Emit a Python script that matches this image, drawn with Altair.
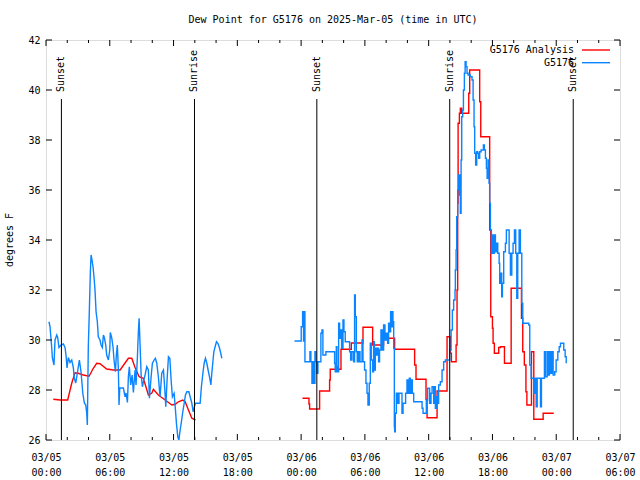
import altair as alt
import pandas as pd

FONT = "DejaVu Sans Mono"
RED = "#ff0000"
BLUE = "#0a84ff"

TITLE = "Dew Point for G5176 on 2025-Mar-05 (time in UTC)"
Y_TITLE = "degrees F"
SERIES = ["G5176 Analysis", "G5176"]

# (hours since 2025-03-05 00:00 UTC, dew point F)
obs_day1 = [(0.28,30.73),(0.38,30.53),(0.54,29.68),(0.60,29.28),(0.75,29.0),(0.85,30.0),(1.01,30.2),(1.10,30.1),(1.22,29.7),(1.41,29.8),(1.63,29.84),(1.79,29.7),(1.88,29.4),(1.98,28.88),(2.10,29.3),(2.26,29.1),(2.42,29.2),(2.57,28.9),(2.66,28.48),(2.80,28.28),(2.95,28.68),(3.14,29.2),(3.30,28.7),(3.46,27.88),(3.61,27.48),(3.74,27.4),(3.83,27.08),(3.89,26.6),(3.98,29.73),(4.08,31.2),(4.17,32.68),(4.24,33.4),(4.33,33.2),(4.43,32.9),(4.52,32.5),(4.61,32.0),(4.71,31.13),(4.83,30.73),(4.92,30.13),(5.08,30.0),(5.18,29.8),(5.30,29.7),(5.40,30.2),(5.49,30.1),(5.62,29.8),(5.71,29.4),(5.87,29.2),(6.00,29.6),(6.05,30.3),(6.19,30.07),(6.31,29.7),(6.40,29.2),(6.53,28.73),(6.62,29.4),(6.71,29.8),(6.81,28.8),(6.87,27.4),(6.94,28.08),(7.28,28.08),(7.44,27.73),
            (7.53,27.88),(7.66,27.5),(7.75,28.53),(7.84,28.93),(7.97,28.2),(8.10,28.6),(8.22,27.9),(8.38,28.8),(8.47,28.2),(8.60,29.33),(8.69,30.33),(8.76,30.87),(8.85,29.8),(8.95,28.6),(9.07,28.13),(9.20,28.4),(9.32,28.6),(9.48,28.93),(9.63,28.8),(9.73,27.67),(9.89,28.53),(10.01,29.07),(10.17,29.2),(10.29,29.27),(10.42,29.07),(10.57,28.53),(10.73,27.73),(10.89,28.67),(11.05,28.8),(11.18,28.0),(11.27,27.33),(11.39,28.4),(11.52,29.33),(11.65,29.27),(11.77,28.4),(11.89,27.73),(12.05,27.87),(12.18,27.2),(12.27,26.67),(12.40,26.13),(12.50,26.0),(12.62,26.4),(12.74,26.73),(12.87,27.13),(13.00,27.47),(13.12,27.8),(13.25,27.93),(13.44,27.93),(13.56,27.73),(13.72,27.47),(13.84,27.13),(13.96,27.33),(14.06,27.47),(14.50,27.47),(14.62,28.13),(14.76,28.67),(14.88,29.07),(15.00,29.27),(15.13,29.07),(15.25,28.8),(15.38,28.53),(15.51,28.2),(15.60,28.67),(15.70,29.13),(15.79,29.53),(15.91,29.73),(16.04,29.93),(16.17,29.87),(16.29,29.73),(16.41,29.53),(16.54,29.27)]

ana_day1 = [(0.69,27.63),(1.32,27.6),(2.04,27.6),(2.42,28.27),(2.73,28.69),(3.04,28.67),(3.51,28.6),(4.05,28.55),(4.45,28.87),(4.77,29.07),(5.08,29.05),(5.71,28.84),(6.34,28.8),(6.97,28.8),(7.75,29.27),(8.07,29.27),(8.38,28.9),(8.76,28.53),(9.16,28.47),(9.63,27.8),(9.95,27.87),(10.10,28.03),(10.57,27.8),(11.21,27.6),(11.84,27.4),(12.15,27.43),(12.46,27.53),(12.87,27.6),(13.09,27.53),(13.40,27.2),(13.72,26.87),(14.06,26.8)]

obs_day2 = [(23.38,29.96),(24.01,30.53),(24.14,31.13),(24.23,29.96),(24.29,31.13),(24.36,29.13),(24.83,29.53),(24.92,29.13),(25.02,28.27),(25.11,29.13),(25.21,28.27),(25.30,29.53),(25.40,29.13),(25.49,28.67),(25.58,29.13),(25.86,30.27),(25.96,30.4),(26.05,29.4),(26.33,29.53),(27.15,29.07),(27.21,28.73),(27.31,29.73),(27.37,28.93),(27.43,28.73),(27.53,30.67),(27.62,30.07),(27.71,30.4),(27.81,29.67),(27.94,30.8),(28.03,30.33),(28.15,29.93),(28.56,29.53),(28.66,29.2),(28.78,29.53),(28.94,29.13),(29.03,31.8),(29.10,30.93),(29.19,29.53),(29.28,29.13),(29.41,29.53),(29.54,29.13),(29.73,30.0),(29.82,29.13),(29.97,28.8),(30.10,28.27),(30.20,27.87),(30.29,27.4),(30.41,28.27),(30.51,29.87),(30.60,29.2),(30.73,28.73),(30.82,29.93),(30.89,28.8),(30.98,29.67),(31.07,29.4),(31.20,29.67),(31.29,29.13),(31.38,29.6),(31.51,30.4),(31.64,29.6),(31.76,30.6),(31.89,30.0),(32.02,30.27),(32.14,29.87),(32.23,30.67),(32.33,30.33),(32.42,31.13),(32.51,30.53),(32.58,31.13),(32.64,30.73),(32.71,29.67),(32.77,26.53),(32.80,26.33),(32.86,27.07),(32.96,27.87),(33.08,27.47),(33.21,27.87),(33.49,27.07),(33.59,27.47),(33.83,27.87),(33.96,28.4),(34.09,27.87),(34.18,28.47),(34.27,27.87),(34.37,28.4),(34.46,27.87),(34.59,27.53),(35.38,27.27),(35.47,27.07),(35.78,27.6),(35.90,28.07),(36.09,27.47),(36.22,27.87),(36.32,28.13),(36.47,27.47),(36.53,28.13),(36.63,27.27),(36.72,27.73),(36.85,27.47),(36.94,28.2),(37.10,28.33),(37.26,28.8),(37.41,29.13),(37.57,29.2),(37.98,29.6),(38.11,30.4),(38.23,31.2),(38.35,31.6),(38.48,32.0),(38.51,32.8),(38.58,33.6),(38.64,34.93),(38.73,36.0),(38.82,36.6),(38.92,35.8),(38.98,35.07),(39.05,37.2),(39.11,38.93),(39.20,39.2),(39.27,40.0),(39.36,40.67),(39.43,41.13),(39.52,40.93),(39.61,40.67),(39.71,40.6),(39.92,40.53),(40.08,40.4),(40.18,39.6),(40.27,38.53),(40.33,37.47),(40.42,37.0),(40.52,37.53),(40.61,37.47),(40.71,37.27),(40.80,37.53),(40.93,37.6),(41.15,37.8),(41.24,37.6),(41.34,37.27),(41.43,36.87),(41.50,36.47),(41.59,37.2),(41.68,36.27),(41.74,35.47),(41.81,34.4),(41.90,33.47),(42.00,34.2),(42.09,33.47),(42.18,34.2),(42.28,33.53),(42.37,33.87),(42.50,33.47),(42.63,33.07),(42.68,32.27),(42.78,32.67),(42.87,31.73),(42.94,32.27),(43.06,33.53),(43.22,33.87),(43.31,34.4),(43.44,34.4),(43.57,33.47),(43.69,32.6),(43.82,33.47),(43.94,33.87),(44.07,34.4),(44.19,33.47),(44.29,31.67),(44.38,33.47),(44.51,34.4),(44.63,33.47),(44.76,31.47),(44.85,30.67),(45.42,30.6),(45.51,29.0),(45.64,28.47),(45.89,27.87),(45.98,28.47),(46.11,27.33),(46.21,28.47),(46.52,27.33),(46.61,28.47),(46.89,29.53),(46.99,28.53),(47.15,29.53),(47.24,28.6),(47.36,29.53),(47.49,28.67),(47.62,29.53),(47.71,28.6),(47.86,28.73),(47.99,29.2),(48.15,29.53),(48.28,29.73),(48.40,29.87),(48.59,29.87),(48.71,29.6),(48.84,29.33),(48.94,29.07)]

ana_day2 = [(24.13,27.67),(24.74,27.44),(24.80,27.24),(25.74,27.96),(26.68,28.4),(26.74,28.83),(27.75,29.63),(28.72,29.88),(29.82,30.51),(30.73,29.8),(31.76,30.07),(32.80,29.63),(34.68,29.0),(34.81,28.43),(35.75,27.63),(35.85,26.89),(36.79,27.96),(37.73,30.13),(38.04,29.47),(38.14,29.13),(38.58,29.8),(38.67,32.0),(38.73,35.47),(38.77,38.67),(38.89,39.07),(38.98,39.27),(39.11,39.07),(39.77,39.87),(39.86,40.8),(40.80,39.53),(40.90,38.13),(41.74,34.4),(41.84,30.93),(42.00,30.47),(42.06,29.87),(42.18,29.47),(42.59,29.7),(42.75,29.73),(43.13,29.07),(43.76,32.07),(44.73,30.87),(44.85,29.53),(45.00,29.0),(45.15,27.93),(45.24,27.4),(45.67,29.53),(45.89,26.83),(46.77,27.07),(47.77,27.07)]

sun_hours = [1.45, 13.97, 25.48, 37.98, 49.6]
sun_labels = ["Sunset", "Sunrise", "Sunset", "Sunrise", "Sunset"]

x_label_hours = [0, 6, 12, 18, 24, 30, 36, 42, 48, 54]
x_minor_hours = [h for h in range(0, 55, 2)]
y_tick_values = [26, 28, 30, 32, 34, 36, 38, 40, 42]

W, H = 574, 400


def df(pairs):
    return pd.DataFrame(pairs, columns=["hour", "dewpt"])


x_scale = alt.Scale(domain=[0, 54], nice=False, zero=False)
y_scale = alt.Scale(domain=[26, 42], nice=False, zero=False)

label_expr = ("['03/0' + (5 + floor(datum.value / 24)), "
              "(datum.value % 24 < 10 ? '0' : '') + (datum.value % 24) + ':00']")

x_axis = alt.Axis(values=x_label_hours, labelExpr=label_expr, ticks=False, domain=False,
                  grid=False, title=None, labelFont=FONT, labelFontSize=10, labelColor="black",
                  labelAngle=0, labelPadding=12, labelLineHeight=15, labelBaseline="top",
                  labelFlush=False, labelOverlap=False, labelBound=False, labelAlign="center")
y_axis = alt.Axis(values=y_tick_values, ticks=False, domain=False, grid=False, title=None,
                  labelFont=FONT, labelFontSize=10, labelColor="black", labelPadding=6,
                  labelFlush=False, labelOverlap=False)

X = alt.X("hour:Q", scale=x_scale, axis=x_axis)
Y = alt.Y("dewpt:Q", scale=y_scale, axis=y_axis)


def series_line(pairs, color, interp):
    return alt.Chart(df(pairs)).mark_line(color=color, strokeWidth=1.4, interpolate=interp,
                                          clip=True).encode(x=X, y=Y)


layers = [
    series_line(ana_day1, RED, "linear"),
    series_line(ana_day2, RED, "step-after"),
    series_line(obs_day1, BLUE, "linear"),
    series_line(obs_day2, BLUE, "step-after"),
]

# sunrise / sunset markers
sun_df = pd.DataFrame({"hour": sun_hours, "label": sun_labels})
layers.append(alt.Chart(sun_df).mark_rule(color="black", strokeWidth=1).encode(
    x=X, y=alt.value(59), y2=alt.value(H)))
layers.append(alt.Chart(sun_df).mark_text(font=FONT, fontSize=10, angle=270, align="left",
                                          baseline="middle", color="black").encode(
    x=X, y=alt.value(52), text="label:N"))

# inward ticks
major_df = pd.DataFrame({"hour": x_label_hours})
minor_df = pd.DataFrame({"hour": [h for h in x_minor_hours if h % 6 != 0]})
ytick_df = pd.DataFrame({"dewpt": y_tick_values})
MAJ, MIN = 6, 3
for d, ln in ((major_df, MAJ), (minor_df, MIN)):
    layers.append(alt.Chart(d).mark_rule(color="black").encode(x=X, y=alt.value(H), y2=alt.value(H - ln)))
    layers.append(alt.Chart(d).mark_rule(color="black").encode(x=X, y=alt.value(0), y2=alt.value(ln)))
layers.append(alt.Chart(ytick_df).mark_rule(color="black").encode(y=Y, x=alt.value(0), x2=alt.value(MAJ)))
layers.append(alt.Chart(ytick_df).mark_rule(color="black").encode(y=Y, x=alt.value(W), x2=alt.value(W - MAJ)))

# legend
for i, (name, color) in enumerate(zip(SERIES, [RED, BLUE])):
    one = pd.DataFrame({"name": [name]})
    yy = 10 + i * 12.7
    layers.append(alt.Chart(one).mark_text(font=FONT, fontSize=10, align="right", baseline="middle",
                                           color="black").encode(
        x=alt.value(528), y=alt.value(yy), text="name:N"))
    layers.append(alt.Chart(one).mark_rule(color=color, strokeWidth=1.4).encode(
        x=alt.value(536), x2=alt.value(564), y=alt.value(yy)))

# title and y axis title
layers.append(alt.Chart(pd.DataFrame({"t": [TITLE]})).mark_text(
    font=FONT, fontSize=10, align="center", baseline="middle", color="black").encode(
    x=alt.value(W / 2), y=alt.value(-20), text="t:N"))
layers.append(alt.Chart(pd.DataFrame({"t": [Y_TITLE]})).mark_text(
    font=FONT, fontSize=10, align="center", baseline="middle", angle=270, color="black").encode(
    x=alt.value(-36), y=alt.value(H / 2), text="t:N"))

chart = alt.layer(*layers).properties(
    width=W, height=H, autosize="none",
    padding={"left": 46, "top": 40, "right": 20, "bottom": 40},
).configure_view(stroke="black", strokeWidth=1).configure(background="white")

chart.save("out.html", embed_options={"renderer": "svg", "actions": False})
